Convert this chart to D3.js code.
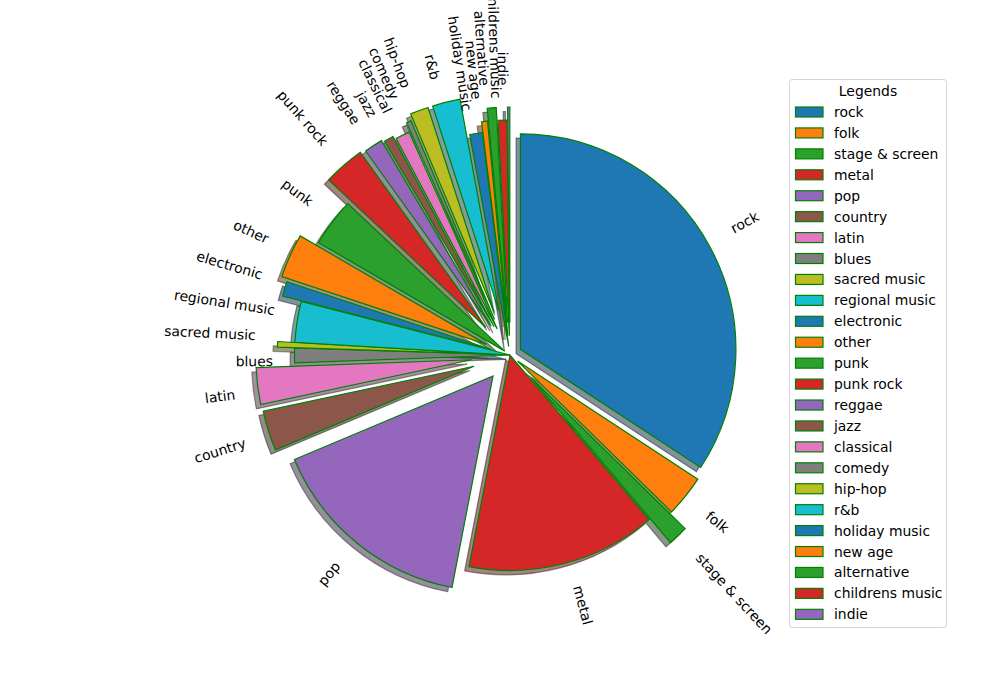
<!DOCTYPE html>
<html>
<head>
<meta charset="utf-8">
<script src="https://cdn.jsdelivr.net/npm/d3@7"></script>
<style>
  body { margin: 0; background: #fff; }
  text { font-family: "DejaVu Sans", sans-serif; fill: #000; }
</style>
</head>
<body>
<svg id="chart" width="1000" height="700"></svg>
<script>
// genres, clockwise from 12 o'clock
var genres = [ 'rock', 'folk', 'stage & screen', 'metal', 'pop', 'country', 'latin', 'blues',
    'sacred music', 'regional music', 'electronic', 'other', 'punk', 'punk rock', 'reggae',
    'jazz', 'classical', 'comedy', 'hip-hop', 'r&b', 'holiday music', 'new age',
    'alternative', 'childrens music', 'indie' ];

// share of each genre (percent)
var shares = [ 34.2, 3.1, 1.5, 14.2, 15.6, 3.0, 2.75, 1.1,
    0.42, 3.05, 1.1, 3.3, 3.6, 3.1, 1.4,
    0.72, 1.08, 0.36, 1.36, 2.08, 0.94, 0.44,
    0.67, 0.67, 0.17 ];

// how far each slice is pulled out (fraction of radius)
var explode = [ 0.055, 0.045, 0.145, 0, 0.125, 0.175, 0.18, 0,
    0.08, 0, 0.09, 0.12, 0.03, 0.17, 0.16,
    0.15, 0.135, 0.18, 0.21, 0.21, 0.04, 0.09,
    0.15, 0.09, 0.15 ];

var cx = 510, cy = 355, R = 215.5;
var svg = d3.select( '#chart' );

var color = d3.scaleOrdinal().domain( genres ).range( d3.schemeCategory10 );
var pie = d3.pie().sort( null ).value( function( d ){ return d; } );
var arcs = pie( shares );
var arc = d3.arc().innerRadius( 0 ).outerRadius( R );

// offset of a slice along its middle angle
function pull( d , k ) {
    var a = ( d.startAngle + d.endAngle ) / 2;
    return [ Math.sin( a ) * k , -Math.cos( a ) * k ];
}

function shade( name ) {
    var c = d3.rgb( color( name ) );
    return d3.rgb( c.r * 0.3 , c.g * 0.3 , c.b * 0.3 ).toString();
}

// shadows first, they sit behind every slice
svg.append( 'g' ).selectAll( 'path' )
    .data( arcs )
    .enter()
        .append( 'path' )
        .attr( 'transform' , function( d , i ){
            var o = pull( d , explode[ i ] * R );
            return 'translate(' + ( cx + o[0] - 0.02 * R ) + ',' + ( cy + o[1] + 0.02 * R ) + ')';
        })
        .attr( 'd' , arc )
        .attr( 'fill' , function( d , i ){ return shade( genres[ i ] ); })
        .attr( 'stroke' , function( d , i ){ return shade( genres[ i ] ); })
        .attr( 'fill-opacity' , 0.5 )
        .attr( 'stroke-opacity' , 0.5 )
        .attr( 'stroke-width' , 1.2 );

svg.append( 'g' ).selectAll( 'path' )
    .data( arcs )
    .enter()
        .append( 'path' )
        .attr( 'transform' , function( d , i ){
            var o = pull( d , explode[ i ] * R );
            return 'translate(' + ( cx + o[0] ) + ',' + ( cy + o[1] ) + ')';
        })
        .attr( 'd' , arc )
        .attr( 'fill' , function( d , i ){ return color( genres[ i ] ); })
        .attr( 'stroke' , 'green' )
        .attr( 'stroke-width' , 1.2 );

// rotated labels, aligned on their rotated box like matplotlib does
var labels = svg.append( 'g' );
arcs.forEach( function( d , i ){
    var a = ( d.startAngle + d.endAngle ) / 2;
    var o = pull( d , ( explode[ i ] + 1.1 ) * R );
    var xt = cx + o[0], yt = cy + o[1];
    var right = Math.sin( a ) > 0, upper = Math.cos( a ) > 0;
    var rot = 90 - a * 180 / Math.PI + ( right ? 0 : 180 );
    var g = labels.append( 'g' );
    var t = g.append( 'text' )
        .attr( 'font-size' , 13.9 )
        .attr( 'text-anchor' , 'middle' )
        .attr( 'y' , 3.6 )
        .text( genres[ i ] );
    var w = t.node().getComputedTextLength(), h = 14;
    var phi = rot * Math.PI / 180;
    var W = w * Math.abs( Math.cos( phi ) ) + h * Math.abs( Math.sin( phi ) );
    var H = w * Math.abs( Math.sin( phi ) ) + h * Math.abs( Math.cos( phi ) );
    var tx = right ? xt + W / 2 : xt - W / 2;
    var ty = upper ? yt - H / 2 : yt + H / 2;
    g.attr( 'transform' , 'translate(' + tx + ',' + ty + ') rotate(' + ( -rot ) + ')' );
});

// legend
var legend = svg.append( 'g' );
legend.append( 'rect' )
    .attr( 'x' , 789.5 ).attr( 'y' , 79.5 )
    .attr( 'width' , 157 ).attr( 'height' , 548 )
    .attr( 'rx' , 3 )
    .attr( 'fill' , '#fff' )
    .attr( 'stroke' , '#d5d5d5' );
legend.append( 'text' )
    .attr( 'x' , 868 ).attr( 'y' , 96 )
    .attr( 'text-anchor' , 'middle' )
    .attr( 'font-size' , 13.9 )
    .text( 'Legends' );

var rows = legend.selectAll( 'g.row' )
    .data( genres )
    .enter()
        .append( 'g' )
        .attr( 'class' , 'row' )
        .attr( 'transform' , function( d , i ){ return 'translate(0,' + ( 112 + i * 20.93 ) + ')'; });
rows.append( 'rect' )
    .attr( 'x' , 795.5 ).attr( 'y' , -5 )
    .attr( 'width' , 27.5 ).attr( 'height' , 10 )
    .attr( 'fill' , function( d ){ return color( d ); })
    .attr( 'stroke' , 'green' )
    .attr( 'stroke-width' , 1.2 );
rows.append( 'text' )
    .attr( 'x' , 834 ).attr( 'y' , 5 )
    .attr( 'font-size' , 13.9 )
    .text( function( d ){ return d; });
</script>
</body>
</html>
